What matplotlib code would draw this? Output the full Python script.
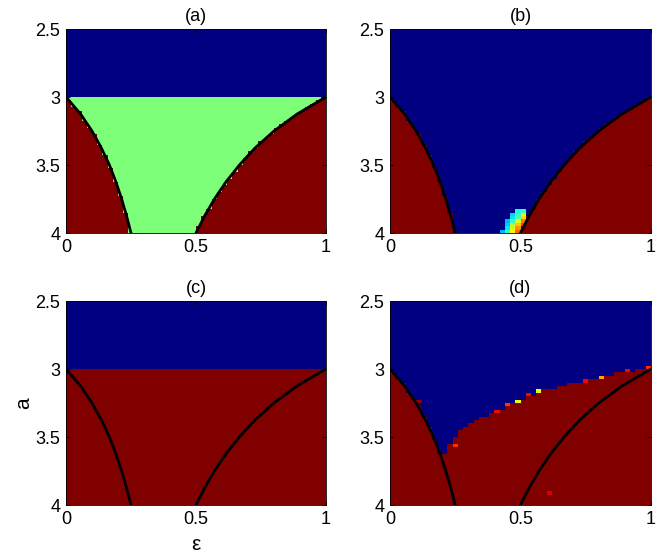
# 2x2 maps of the coupled map states over (eps, a), with the stability curves on top

import numpy as np
import matplotlib.pyplot as plt

plt.rcParams['font.family'] = ['Liberation Sans', 'DejaVu Sans']

# black curves
curve_a = [3.0, 3.125, 3.25, 3.375, 3.5, 3.625, 3.75, 3.875, 4.0]
left_eps = [0.0, 0.056, 0.10, 0.136, 0.167, 0.192, 0.214, 0.233, 0.25]
right_eps = [1.0, 0.889, 0.80, 0.727, 0.667, 0.615, 0.571, 0.533, 0.50]

# upper edge of the red region in panel (d)
d_eps = [0.20, 0.215, 0.24, 0.28, 0.32, 0.36, 0.40, 0.45, 0.51, 0.575, 0.625, 0.69, 0.75, 0.83, 0.91, 1.0]
d_a = [3.66, 3.61, 3.51, 3.44, 3.39, 3.35, 3.32, 3.27, 3.22, 3.17, 3.14, 3.11, 3.08, 3.05, 3.02, 3.0]

# odd cells (eps, a, colour value)
b_cells = [(0.49, 3.85, 0.38), (0.51, 3.85, 0.42),
           (0.47, 3.875, 0.33), (0.49, 3.875, 0.42), (0.51, 3.875, 0.62),
           (0.47, 3.90, 0.35), (0.49, 3.90, 0.45), (0.51, 3.90, 0.68),
           (0.45, 3.925, 0.30), (0.47, 3.925, 0.42), (0.49, 3.925, 0.62), (0.51, 3.925, 0.78),
           (0.45, 3.95, 0.32), (0.47, 3.95, 0.55), (0.49, 3.95, 0.70), (0.51, 3.95, 0.85),
           (0.45, 3.975, 0.35), (0.47, 3.975, 0.62), (0.49, 3.975, 0.75),
           (0.43, 3.99, 0.30), (0.45, 3.99, 0.40), (0.47, 3.99, 0.65), (0.49, 3.99, 0.80)]
d_cells = [(0.243, 3.56, 0.86), (0.402, 3.32, 0.90), (0.46, 3.26, 0.85),
           (0.50, 3.23, 0.63), (0.54, 3.20, 0.90), (0.577, 3.17, 0.63),
           (0.753, 3.09, 0.90), (0.812, 3.055, 0.74), (0.912, 3.02, 0.90),
           (0.99, 2.99, 0.86), (0.617, 3.91, 0.92), (0.112, 3.25, 0.98)]

titles = ['(a)', '(b)', '(c)', '(d)']

eps_edges = np.linspace(0, 1, 51)
a_edges = np.linspace(2.5, 4, 61)
ec = 0.5 * (eps_edges[1:] + eps_edges[:-1])
ac = 0.5 * (a_edges[1:] + a_edges[:-1])
E, A = np.meshgrid(ec, ac)

L = np.interp(A, curve_a, left_eps)
R = np.interp(A, curve_a, right_eps)
inside = (E > L) & (E < R)
top = A < 3.0

grids = []
g = np.ones_like(E)
g[inside & ~top] = 0.5
g[top] = 0.0
grids.append(g)

g = np.ones_like(E)
g[inside | top] = 0.0
grids.append(g)

g = np.ones_like(E)
g[top] = 0.0
grids.append(g)

bd = np.interp(E, d_eps, d_a, left=4.0)
g = np.ones_like(E)
g[top | ((E > L) & (A < bd))] = 0.0
grids.append(g)


def put_cells(grid, cells):
    for e, a, v in cells:
        i = min(np.searchsorted(a_edges, a) - 1, len(ac) - 1)
        j = min(np.searchsorted(eps_edges, e) - 1, len(ec) - 1)
        grid[i, j] = v


put_cells(grids[1], b_cells)
put_cells(grids[3], d_cells)

fig = plt.figure(figsize=(6.72, 5.57), dpi=100)
W, H = 672.0, 557.0
boxes = [(66, 29, 326, 233), (390, 29, 651, 233), (66, 301, 326, 505), (390, 301, 651, 505)]

for k in range(4):
    x0, y0, x1, y1 = boxes[k]
    ax = fig.add_axes([x0 / W, 1 - y1 / H, (x1 - x0) / W, (y1 - y0) / H])
    ax.pcolormesh(eps_edges, a_edges, grids[k], cmap='jet', vmin=0, vmax=1,
                  shading='flat', antialiased=False, linewidth=0)
    ax.plot(left_eps, curve_a, 'k-', lw=2.0)
    ax.plot(right_eps, curve_a, 'k-', lw=2.0)
    ax.set_xlim(0, 1)
    ax.set_ylim(4, 2.5)
    ax.set_xticks([0, 0.5, 1])
    ax.set_xticklabels(['0', '0.5', '1'])
    ax.set_yticks([2.5, 3, 3.5, 4])
    ax.set_yticklabels(['2.5', '3', '3.5', '4'])
    ax.tick_params(direction='in', length=3, width=0.6, labelsize=13, top=True, right=True, pad=4)
    ax.set_title(titles[k], fontsize=13, pad=6)
    for s in ax.spines.values():
        s.set_linewidth(0.6)
    if k == 2:
        ax.set_xlabel('ε', fontsize=15, labelpad=5)
        ax.set_ylabel('a', fontsize=15, labelpad=2)

fig.savefig('out.png', dpi=100)
